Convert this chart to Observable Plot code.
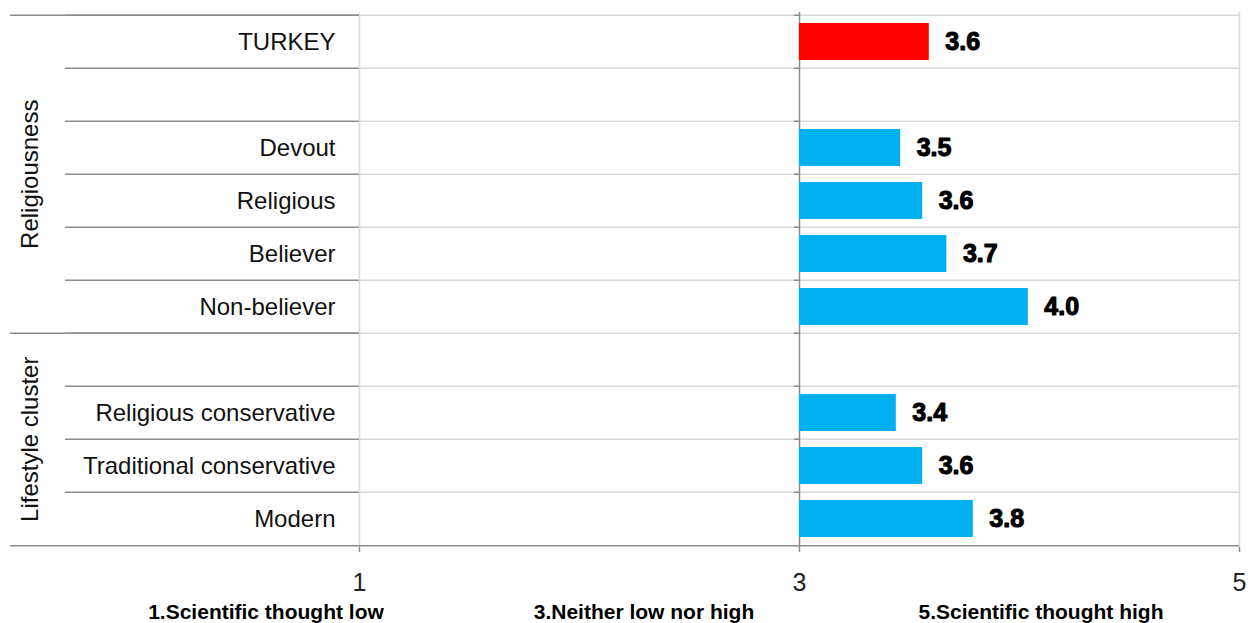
<!DOCTYPE html>
<html><head><meta charset="utf-8">
<script src="https://cdn.jsdelivr.net/npm/d3@7"></script>
<script src="https://cdn.jsdelivr.net/npm/@observablehq/plot@0.6"></script>
<style>
body{margin:0;background:#fff;font-family:"Liberation Sans",Arial,sans-serif}
#chart{position:relative;width:1248px;height:623px;overflow:hidden}
.cap{position:absolute;top:601px;transform:translateX(-50%);font-weight:bold;font-size:21px;line-height:21px;white-space:nowrap;color:#000}
</style></head><body><div id="chart"></div><script>
// rows of the chart, top to bottom (gap rows are empty)
const rowKeys = ["TURKEY","gap1","Devout","Religious","Believer","Non-believer","gap2","Religious conservative","Traditional conservative","Modern"];
const rowLabels = ["TURKEY","","Devout","Religious","Believer","Non-believer","","Religious conservative","Traditional conservative","Modern"];
// bar series
const barCategories = ["TURKEY","Devout","Religious","Believer","Non-believer","Religious conservative","Traditional conservative","Modern"];
const barValues = [3.59, 3.46, 3.56, 3.67, 4.04, 3.44, 3.56, 3.79];
const barColors = ["#FF0000","#00B0F0","#00B0F0","#00B0F0","#00B0F0","#00B0F0","#00B0F0","#00B0F0"];
// groups
const groupNames = ["Religiousness","Lifestyle cluster"];
const groupRows = [
  ["TURKEY","gap1","Devout","Religious","Believer","Non-believer"],
  ["gap2","Religious conservative","Traditional conservative","Modern"]
];
// axis
const xTicks = [1,3,5];
const xDomain = [1,5];
const baseline = 3;
const scaleLabels = ["1.Scientific thought low","3.Neither low nor high","5.Scientific thought high"];

// layout
const W = 1248, H = 595, mL = 359, mR = 9, mT = 12, mB = 48;
const step = (H - mT - mB) / rowKeys.length;
const pxPerUnit = (W - mL - mR) / (xDomain[1] - xDomain[0]);
const xFromPx = px => xDomain[0] + (px - mL) / pxPerUnit;
const xLeft = xFromPx(10), xLabelStart = xFromPx(65);
const capCenters = [266, 644, 1041];

const rows = rowKeys.map((k, i) => ({key: k, label: rowLabels[i]}));
const bars = barCategories.map((c, i) => ({cat: c, value: barValues[i], color: barColors[i]}));
const groups = groupNames.map((name, i) => {
  const r = groupRows[i], n = r.length;
  return {name, anchor: r[Math.floor(n / 2)], shift: n % 2 === 0 ? -step / 2 : 0, first: r[0]};
});

const dark = "#8c8c8c", light = "#d9d9d9";
const plot = Plot.plot({
  width: W, height: H,
  marginLeft: mL, marginRight: mR, marginTop: mT, marginBottom: mB,
  style: {fontFamily: "'Liberation Sans', Arial, sans-serif", fontSize: "25px", color: "#222", background: "#fff", overflow: "visible"},
  x: {domain: xDomain, ticks: xTicks, tickSize: 5, tickPadding: 21, label: null, tickFormat: d => String(d)},
  y: {domain: rowKeys, padding: 0, axis: null},
  marks: [
    Plot.ruleX([1, 5], {stroke: light, strokeWidth: 1.5}),
    Plot.ruleY(rowKeys, {y: d => d, x1: 1, x2: 5, dy: -step / 2, stroke: light, strokeWidth: 1.5}),
    Plot.ruleY(rowKeys, {y: d => d, x1: xLabelStart, x2: 1, dy: -step / 2, stroke: dark, strokeWidth: 1.5}),
    Plot.ruleY(groups, {y: "first", x1: xLeft, x2: 1, dy: -step / 2, stroke: dark, strokeWidth: 1.5}),
    Plot.ruleY([rowKeys[rowKeys.length - 1]], {y: d => d, x1: xLeft, x2: 5, dy: step / 2, stroke: dark, strokeWidth: 1.5}),
    Plot.ruleX([baseline], {stroke: dark, strokeWidth: 1.5}),
    Plot.ruleY(rowKeys, {y: d => d, x1: baseline, x2: baseline, insetLeft: -5, dy: -step / 2, stroke: dark, strokeWidth: 1.5}),
    Plot.barX(bars, {y: "cat", x1: baseline, x2: "value", fill: "color", insetTop: 8, insetBottom: 8}),
    Plot.text(bars, {y: "cat", x: "value", text: d => d.value.toFixed(1), dx: 16, textAnchor: "start", fontSize: 25, fontWeight: "bold", fill: "#000", stroke: "#000", strokeWidth: 1.1}),
    Plot.text(rows, {y: "key", x: 1, text: "label", textAnchor: "end", dx: -24, fontSize: 24, fill: "#111"}),
    ...groups.map(g => Plot.text([g], {y: "anchor", x: xLeft, text: "name", dx: 20, dy: g.shift, rotate: -90, fontSize: 24, fill: "#111"}))
  ]
});
document.getElementById("chart").appendChild(plot);
d3.select(plot).selectAll("g[aria-label^='x-axis'] line, g[aria-label^='x-axis'] path").attr("stroke", dark).attr("stroke-width", 1.5);
const cap = d3.select("#chart");
scaleLabels.forEach((t, i) => cap.append("div").attr("class", "cap").style("left", capCenters[i] + "px").text(t));
</script></body></html>
